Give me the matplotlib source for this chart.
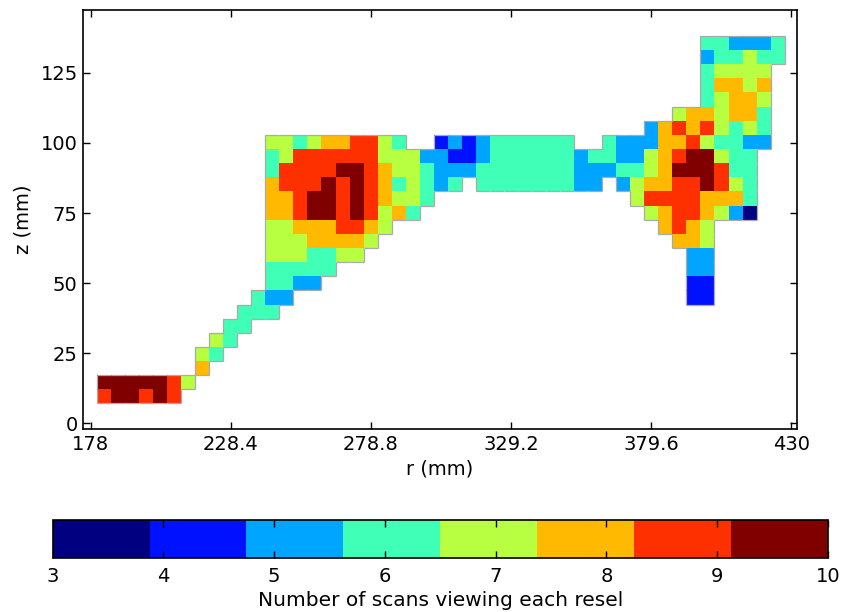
import numpy as np
import matplotlib
matplotlib.use("Agg")
import matplotlib.pyplot as plt
from matplotlib.colors import ListedColormap, Normalize
from matplotlib.collections import LineCollection

plt.rcParams['font.family'] = ['DejaVu Sans']

# Resel grid: radial and axial cell edges (mm)
R_START, R_STEP, N_COLS = 180.2, 5.05, 49
Z_START, Z_STEP, N_ROWS = 7.1, 5.04, 26

# Number of scans viewing each resel, one string per row (bottom row first).
# '.' = not viewed, digits = count, 'A' = 10
ROWS = [
    "9AA9A9",
    "AAAAA97",
    "." * 7 + "8",
    "." * 7 + "76",
    "." * 8 + "76",
    "." * 9 + "66",
    "." * 10 + "666",
    "." * 11 + "655" + "." * 28 + "44",
    "." * 12 + "6655" + "." * 26 + "44",
    "." * 12 + "66666" + "." * 25 + "55",
    "." * 12 + "7776677" + "." * 23 + "55",
    "." * 12 + "77788887" + "." * 21 + "887",
    "." * 12 + "778889987" + "." * 19 + "8987",
    "." * 12 + "889AA9A9786" + "." * 16 + "78998753",
    "." * 12 + "889AA9A98776" + "." * 14 + "7" + "9999" + "888" + "6",
    "." * 12 + "8999A9A98676" + "56" + "." + "6666666" + "55" + "." + "57" + "88" + "99" + "A9" + "76",
    "." * 12 + "6" + "9999" + "AA" + "98" + "77" + "6" + "555" + "6666666" + "555" + "66" + "78" + "AAA" + "9" + "66",
    "." * 12 + "67" + "999999" + "777" + "5544" + "5" + "666666" + "5" + "66" + "55" + "789AA7" + "66",
    "." * 12 + "7767889976" + ".." + "4545" + "666666" + ".." + "6555889766" + "55",
    "." * 39 + "589897676",
    "." * 41 + "7887886",
    "." * 43 + "67887",
    "." * 43 + "68878",
    "." * 43 + "67777",
    "." * 43 + "566766",
    "." * 43 + "665556",
]

R_TICKS = [178, 228.4, 278.8, 329.2, 379.6, 430]
Z_TICKS = [0, 25, 50, 75, 100, 125]
CBAR_TICKS = [3, 4, 5, 6, 7, 8, 9, 10]
VMIN, VMAX = 3, 10


def decode(ch):
    if ch == ".":
        return np.nan
    if ch == "A":
        return 10.0
    return float(ch)


counts = np.full((N_ROWS, N_COLS), np.nan)
for i, row in enumerate(ROWS):
    for j, ch in enumerate(row.ljust(N_COLS, ".")):
        counts[i, j] = decode(ch)
masked = np.ma.masked_invalid(counts)

r_edges = R_START + R_STEP * np.arange(N_COLS + 1)
z_edges = Z_START + Z_STEP * np.arange(N_ROWS + 1)

cmap = ListedColormap(plt.get_cmap("jet")(np.linspace(0, 1, 8)))
norm = Normalize(vmin=VMIN, vmax=VMAX)

fig = plt.figure(figsize=(8.44, 6.12), dpi=100)
ax = fig.add_axes([0.0987, 0.299, 0.8453, 0.6847])
mesh = ax.pcolormesh(r_edges, z_edges, masked, cmap=cmap, norm=norm,
                     antialiased=False)

# thin grey outline around the viewed region
segs = []
filled = ~np.isnan(counts)
for i in range(N_ROWS):
    for j in range(N_COLS):
        if not filled[i, j]:
            continue
        x0, x1 = r_edges[j], r_edges[j + 1]
        y0, y1 = z_edges[i], z_edges[i + 1]
        if i == 0 or not filled[i - 1, j]:
            segs.append([(x0, y0), (x1, y0)])
        if i == N_ROWS - 1 or not filled[i + 1, j]:
            segs.append([(x0, y1), (x1, y1)])
        if j == 0 or not filled[i, j - 1]:
            segs.append([(x0, y0), (x0, y1)])
        if j == N_COLS - 1 or not filled[i, j + 1]:
            segs.append([(x1, y0), (x1, y1)])
ax.add_collection(LineCollection(segs, colors="#aaaaaa", linewidths=0.9,
                                 zorder=3))

ax.set_xlim(175.3, 432.0)
ax.set_ylim(-2.0, 147.4)
ax.set_xticks(R_TICKS)
ax.set_xticklabels([f"{t:g}" for t in R_TICKS])
ax.set_yticks(Z_TICKS)
ax.tick_params(direction="in", top=True, right=True, length=5, width=1,
               labelsize=14, pad=4)
for s in ax.spines.values():
    s.set_linewidth(1.2)
ax.set_xlabel("r (mm)", fontsize=14, labelpad=4)
ax.set_ylabel("z (mm)", fontsize=14, labelpad=6)

cax = fig.add_axes([0.0624, 0.0877, 0.9186, 0.0626])
cb = fig.colorbar(mesh, cax=cax, orientation="horizontal", ticks=CBAR_TICKS)
cb.outline.set_linewidth(1.2)
cax.tick_params(direction="in", top=True, bottom=True, length=5, width=1,
                labelsize=14, pad=6)
cb.set_label("Number of scans viewing each resel", fontsize=14.5, labelpad=4)

fig.savefig("out.png", dpi=100)
